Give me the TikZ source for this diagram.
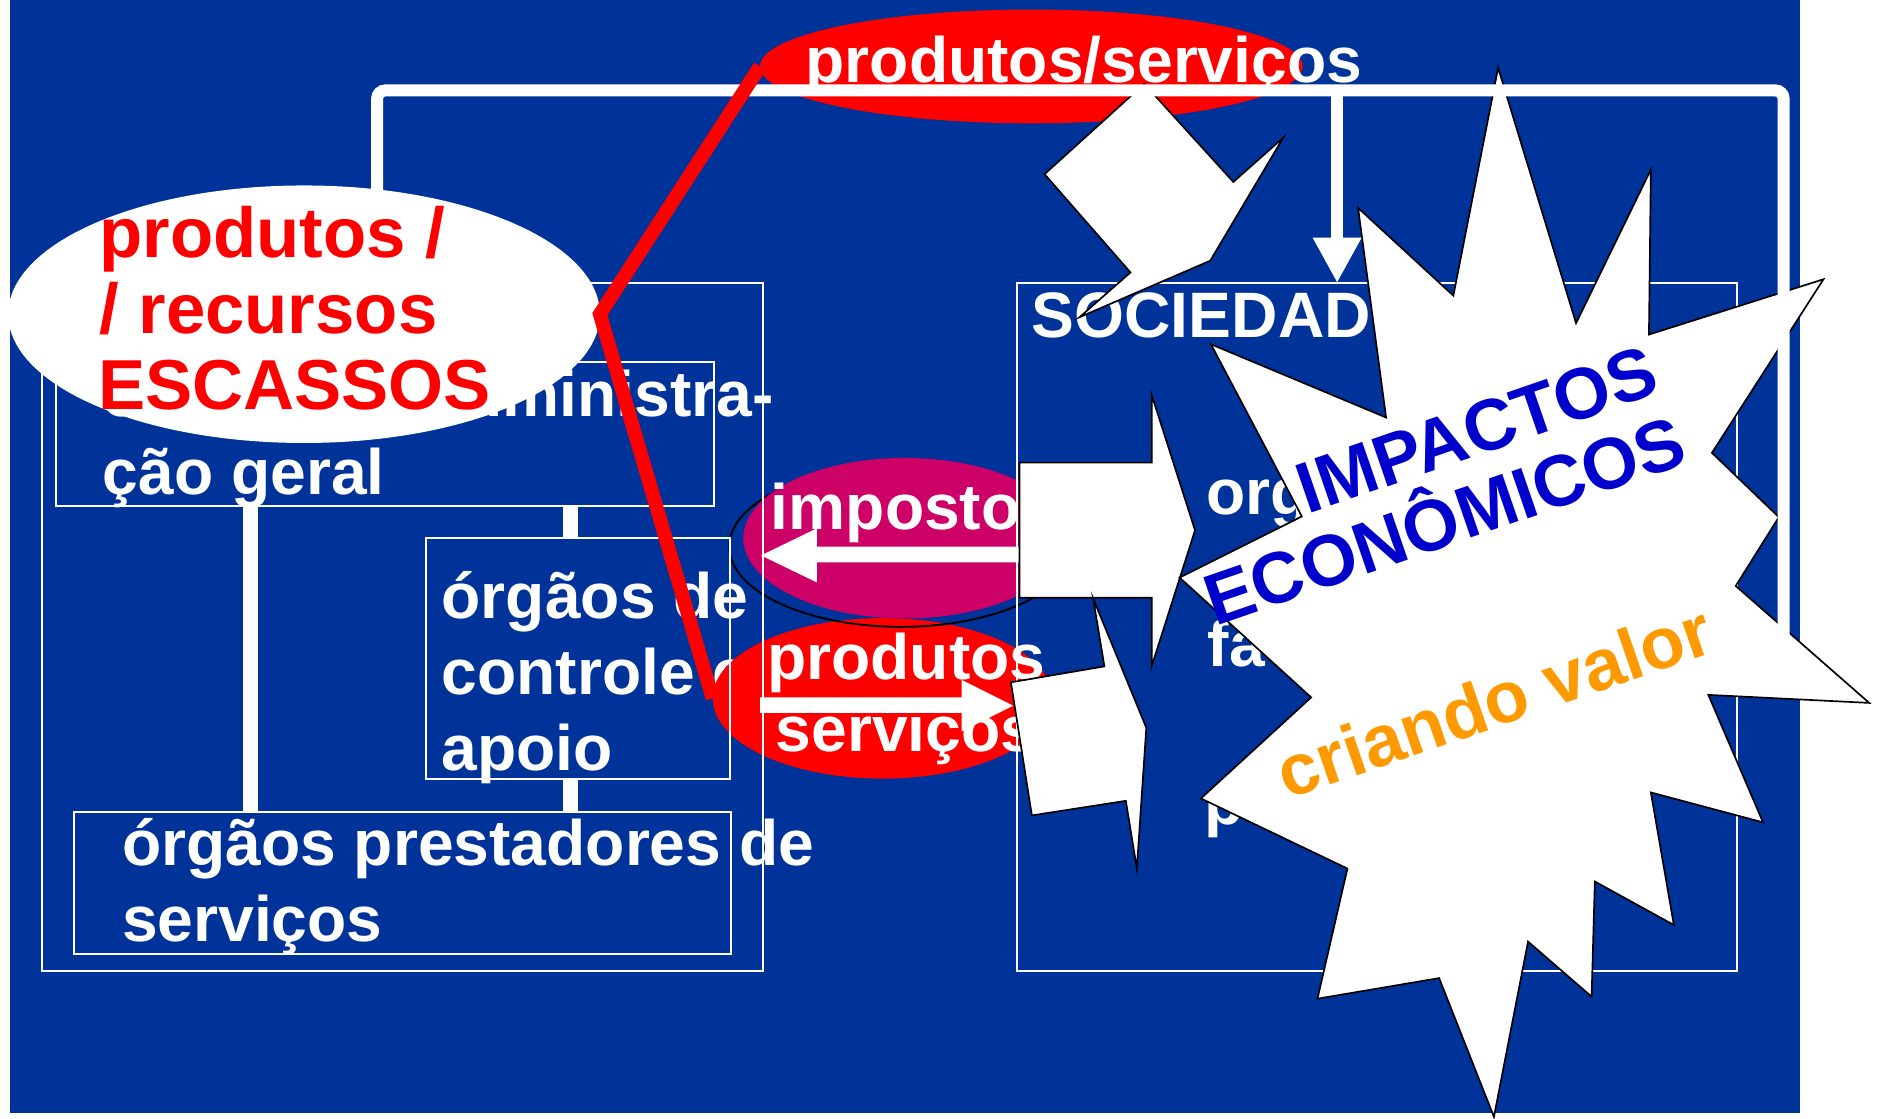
\documentclass[tikz,border=0pt]{standalone}
\usepackage{fontspec}
\setmainfont{Liberation Sans}
\usetikzlibrary{shapes.geometric,arrows.meta,calc}
\definecolor{bgblue}{RGB}{0,51,153}
\definecolor{magent}{RGB}{204,0,102}
\definecolor{impblue}{RGB}{0,0,204}
\definecolor{orng}{RGB}{255,153,0}
\begin{document}
\begin{tikzpicture}[x=0.01cm,y=-0.01cm,
 wtxt/.style={anchor=base west,inner sep=0,outer sep=0,text=white,font=\bfseries\fontsize{15.25}{18}\selectfont},
 rtxt/.style={anchor=base west,inner sep=0,outer sep=0,text=red,font=\bfseries\fontsize{16.8}{19}\selectfont},
 btxt/.style={anchor=base west,inner sep=0,outer sep=0,rotate=19,font=\bfseries\fontsize{17.2}{20}\selectfont},
 orgbox/.style={draw=white,line width=0.45pt,anchor=north west,inner sep=0,outer sep=0,rectangle},
 orgconn/.style={draw=white,line width=3.55pt},
 topconn/.style={draw=white,line width=2.85pt},
 ell/.style={ellipse,inner sep=0,outer sep=0},
 blockshape/.style={fill=white,draw=black,line width=0.4pt,line join=miter},
 redline/.style={draw=red,line width=3.3pt,line join=miter},
]
\useasboundingbox (0,0) rectangle (1568,934);
\fill[white] (0,0) rectangle (1568,934);
\fill[bgblue] (8,0) rectangle (1503.8,930);

% texts inside the boxes
\node[wtxt] (adm1) at (86,348) {órgãos de administra-};
\node[wtxt] (adm2) at (86,413) {ção geral};
\node[wtxt] (ctl1) at (369,517) {órgãos de};
\node[wtxt] (ctl2) at (369,580.5) {controle e};
\node[wtxt] (ctl3) at (369,644) {apoio};
\node[wtxt] (prs1) at (102,723) {órgãos prestadores de};
\node[wtxt] (prs2) at (102,786.5) {serviços};
\node[wtxt] (soct) at (862,282) {SOCIEDAD};
\node[wtxt] (so1) at (1008,430) {org};
\node[wtxt] (so2) at (1009,557) {fa};
\node[wtxt] (so3) at (1006,689) {p};

% ellipses
\node[ell,fill=white,minimum width=4.94cm,minimum height=2.15cm] (wel) at (254,262.5) {};
\node[ell,fill=red,minimum width=4.53cm,minimum height=0.95cm] (topell) at (861.5,55.5) {};
\node[ell,fill=red,minimum width=2.84cm,minimum height=1.34cm] (rel) at (737.4,583.4) {};
\node[ell,draw=black,line width=0.45pt,minimum width=2.868cm,minimum height=1.34cm] (shad) at (752.7,456.6) {};
\node[ell,fill=magent,minimum width=2.7cm,minimum height=1.34cm] (mag) at (756,449.6) {};

% boxes
\node[orgbox,minimum width=6.02cm,minimum height=5.745cm] (orgout) at (35,236.5) {};
\node[orgbox,minimum width=5.49cm,minimum height=1.205cm] (adm) at (47,302.5) {};
\node[orgbox,minimum width=2.54cm,minimum height=2.015cm] (ctl) at (356,449.5) {};
\node[orgbox,minimum width=5.48cm,minimum height=1.19cm] (prs) at (62,678) {};
\node[orgbox,minimum width=6.013cm,minimum height=5.745cm] (soc) at (849.5,236.5) {};

\coordinate (cA) at (209,0);
\coordinate (cB) at (476.5,0);
\draw[orgconn] (adm.south -| cA) -- (prs.north -| cA);
\draw[orgconn] (adm.south -| cB) -- (ctl.north -| cB);
\draw[orgconn] (ctl.south -| cB) -- (prs.north -| cB);

% arrows inside the ellipses
\fill[white] (852,456.7) -- (682.3,456.7) -- (682.3,441.4) -- (635.7,464) -- (682.3,486.5) -- (682.3,469.8) -- (852,469.8) -- cycle;
\fill[white] (635,582.5) -- (803.4,582.5) -- (803.4,568) -- (846.4,589.5) -- (803.4,611) -- (803.4,595.5) -- (635,595.5) -- cycle;

% texts of the ellipses
\node[wtxt] (tptxt) at (673,69) {produtos/serviços};
\node[wtxt] (imptxt) at (644,442.5) {imposto};
\node[wtxt] (prdtxt) at (641,568) {produtos};
\node[wtxt] (svctxt) at (648,628) {serviços};
\node[rtxt] (r1) at (83,215) {produtos /};
\node[rtxt] (r2) at (83,279) {/ recursos};
\node[rtxt] (r3) at (82,342.5) {ESCASSOS};

% white block shapes
\draw[blockshape] (872.6,145.5) -- (955.9,70.1) -- (1030.3,152) -- (1072,115) -- (1011,217.8) -- (901.8,265) -- (944.4,227.6) -- cycle;
\draw[blockshape] (851.6,386.5) -- (962.1,386.5) -- (962.1,330) -- (998.3,443) -- (962.1,556.5) -- (962.1,499.4) -- (851.6,499.4) -- cycle;
\draw[blockshape] (844.5,570) -- (922.6,556.7) -- (913.2,500) -- (957.6,608) -- (949.7,725.6) -- (940.5,669) -- (862,681.2) -- cycle;

% starburst
\draw[blockshape] (1251.5,56.7) -- (1316.6,270) -- (1379.1,141.7) -- (1377.5,279.5) -- (1523.3,233.3)
 -- (1430.1,378.3) -- (1486,432) -- (1450,489.5) -- (1561.5,587.2) -- (1427.1,580.5)
 -- (1472.8,687) -- (1379.1,662) -- (1398.3,772.7) -- (1332.3,736.4) -- (1329.6,832.6)
 -- (1276.5,786.6) -- (1248,933) -- (1202.2,817.1) -- (1100.6,834.3) -- (1125.6,725.6)
 -- (1003.2,667) -- (1095.3,582.6) -- (985.4,482.5) -- (1087.5,431.4) -- (1011.6,287.6)
 -- (1157.9,348.8) -- (1134.5,173.7) -- (1214.1,247) -- cycle;

% top connectors
\coordinate (tL) at (315,75.5);
\coordinate (tR) at (1490,75.5);
\coordinate (tJ) at (1117,75.5);
\coordinate (rEnd) at (1490,550);
\draw[topconn,rounded corners=2pt] ($(wel.north -| tL)+(0,12)$) -- (tL) -- (tR) -- (rEnd);
\draw[topconn,-{Triangle[width=0.38cm,length=0.38cm]}] (tJ) -- (soc.north -| tJ);

% red path
\draw[redline] (topell.west) -- (wel.east) -- (rel.west);

% starburst texts
\node[btxt,text=impblue] (imp) at (1092,429.6) {IMPACTOS};
\node[btxt,text=impblue] (eco) at (1015,523.3) {ECONÔMICOS};
\node[btxt,text=orng] (cri) at (1075.5,667.8) {criando valor};
\end{tikzpicture}
\end{document}
